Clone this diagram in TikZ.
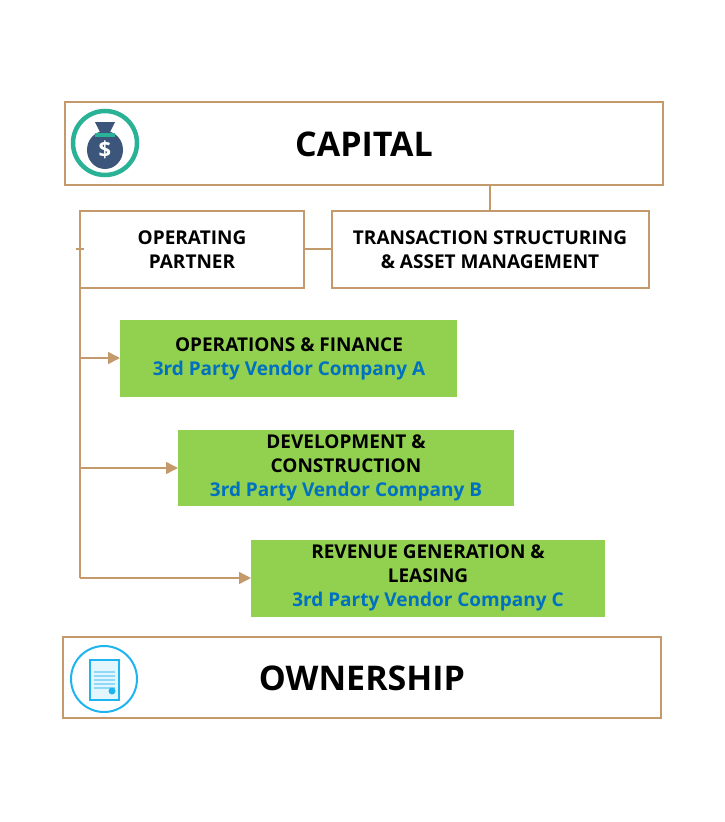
\documentclass[tikz,border=0pt]{standalone}
\usepackage{fontspec}
\setmainfont{Open Sans}
\usetikzlibrary{arrows.meta}
\definecolor{tan}{RGB}{196,154,108}
\definecolor{leaf}{RGB}{146,208,80}
\definecolor{vendor}{RGB}{0,112,192}
\definecolor{teal}{RGB}{42,178,150}
\definecolor{navy}{RGB}{59,86,122}
\definecolor{sky}{RGB}{30,180,240}
\tikzset{every picture/.style={line width=1.5pt}}
\tikzset{
  frame/.style={draw=tan, fill=white, line width=1.5pt},
  green/.style={fill=leaf, draw=none},
  txt/.style={font=\bfseries\fontsize{19}{24}\selectfont, align=center, inner sep=0pt},
  feed/.style={draw=tan, line width=1.5pt, -{Triangle[length=12pt,width=12pt]}}
}
\begin{document}
\begin{tikzpicture}[x=1pt,y=1pt,yscale=-1,xscale=1]
\useasboundingbox (0,0) rectangle (725,822);

%Boxes
\draw [frame] (65,102) rectangle (663,185);
\draw [frame] (80,211) rectangle (304,288);
\draw [frame] (332,211) rectangle (649,288);
\fill [green] (120,320) rectangle (457,397);
\fill [green] (178,430) rectangle (514,506);
\fill [green] (251,540) rectangle (605,617);
\draw [frame] (63,637) rectangle (661,718);

%Straight Lines
\coordinate (cap) at (490,185);
\coordinate (trans) at (490,211);
\draw [draw=tan] (cap) -- (trans);
\coordinate (opr) at (304,249);
\coordinate (trl) at (332,249);
\draw [draw=tan] (opr) -- (trl);
\coordinate (top) at (80,249);
\coordinate (bot) at (80,578);
\draw [draw=tan] (top) -- (bot);
\draw [draw=tan] (76,249) -- (84,249);
\coordinate (ga) at (120,358);
\coordinate (gb) at (178,468);
\coordinate (gc) at (251,578);
\draw [feed] (80,358) -- (ga);
\draw [feed] (80,468) -- (gb);
\draw [feed] (bot) -- (gc);

%Icon: money bag
\draw [draw=teal, line width=4.5pt] (105,143) circle (32);
\fill [navy] (105,150) ellipse (18 and 19);
\fill [navy] (95,122) -- (115,122) -- (109,134) -- (101,134) -- cycle;
\fill [teal] (95,133) rectangle (115,136.5);
\node [text=white, font=\bfseries\fontsize{22}{22}\selectfont, inner sep=0pt] (dollar) at (105,150) {\$};

%Icon: certificate
\draw [draw=sky, line width=2pt] (104,679) circle (33);
\fill [sky!12] (90,660) rectangle (119,700);
\draw [draw=sky, line width=2pt] (90,660) rectangle (119,700);
\foreach \y in {672,676,680,684,688} \draw [draw=sky!50, line width=1.5pt] (94,\y) -- (115,\y);
\fill [sky] (112,691) circle (3.5);

% Text Node
\node [font=\bfseries\fontsize{34}{34}\selectfont, inner sep=0pt] (capital) at (364,144) {CAPITAL};
\node [txt] (operating) at (192,250) {OPERATING\\PARTNER};
\node [txt] (transaction) at (490,250) {TRANSACTION STRUCTURING\\\& ASSET MANAGEMENT};
\node [txt] (opfin) at (289,359) {OPERATIONS \& FINANCE\\\textcolor{vendor}{3rd Party Vendor Company A}};
\node [txt] (devcon) at (346,468) {DEVELOPMENT \&\\CONSTRUCTION\\\textcolor{vendor}{3rd Party Vendor Company B}};
\node [txt] (revlease) at (428,578) {REVENUE GENERATION \&\\LEASING\\\textcolor{vendor}{3rd Party Vendor Company C}};
\node [font=\bfseries\fontsize{34}{34}\selectfont, inner sep=0pt] (ownership) at (362,678) {OWNERSHIP};
\end{tikzpicture}
\end{document}
